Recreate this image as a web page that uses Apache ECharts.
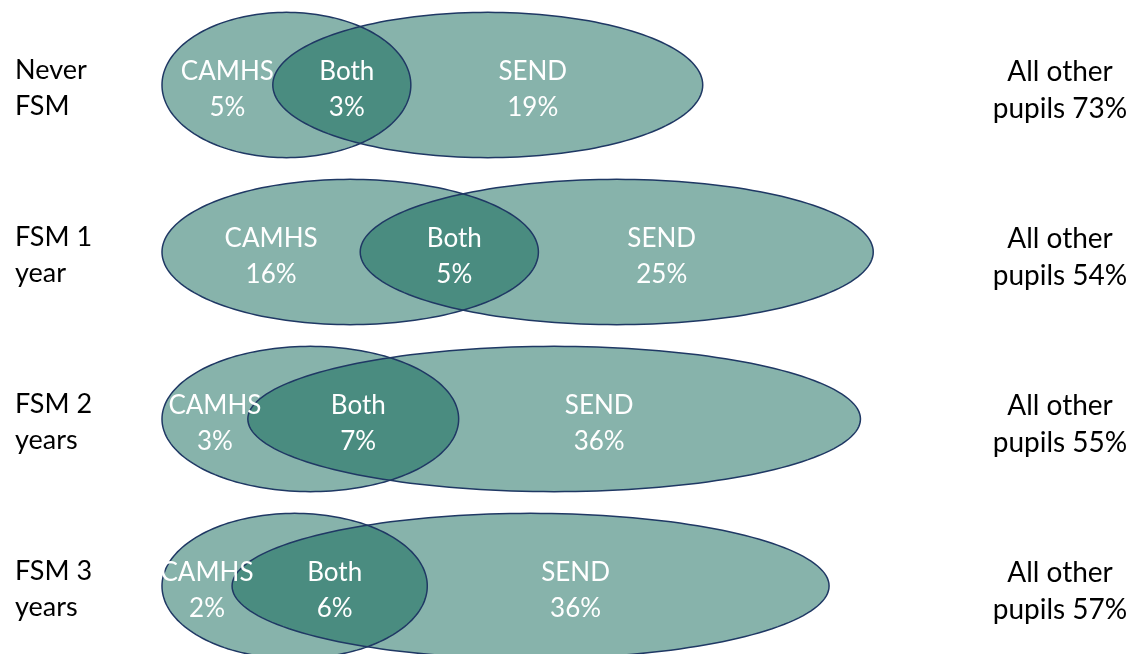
<!DOCTYPE html>
<html>
<head>
<meta charset="utf-8">
<script src="https://cdn.jsdelivr.net/npm/echarts@6/dist/echarts.min.js"></script>
<style>
  html, body { margin: 0; padding: 0; background: #ffffff; }
  #chart { width: 1135px; height: 654px; }
</style>
</head>
<body>
<div id="chart"></div>
<script>
// Pupils by years of free school meals: share known to CAMHS only, both, SEND only, neither (%)
const groups    = ['Never\nFSM', 'FSM 1\nyear', 'FSM 2\nyears', 'FSM 3\nyears'];
const camhsOnly = [5, 16, 3, 2];
const both      = [3, 5, 7, 6];
const sendOnly  = [19, 25, 36, 36];
const allOther  = [73, 54, 55, 57];

// Horizontal extent of each region, in x-axis units per sqrt(percentage point)
const SCALE = { camhs: 0.74, both: 1.19, send: 1.0 };

const FILL = 'rgba(10, 99, 83, 0.49)';
const EDGE = '#1f3864';
const FONT = 'Lato, "Open Sans", sans-serif';

function ellipsePoints(cx, cy, rx, ry) {
  const pts = [];
  const n = 180;
  for (let k = 0; k < n; k++) {
    const t = (2 * Math.PI * k) / n;
    pts.push([cx + rx * Math.cos(t), cy + ry * Math.sin(t)]);
  }
  return pts;
}

const rows = groups.map((g, i) => [i, camhsOnly[i], both[i], sendOnly[i], allOther[i]]);

function renderRow(params, api) {
  const i = api.value(0);
  const c = api.value(1), b = api.value(2), s = api.value(3), o = api.value(4);

  // region boundaries along the x axis
  const x0 = 0;
  const x1 = x0 + SCALE.camhs * Math.sqrt(c);
  const x2 = x1 + SCALE.both * Math.sqrt(b);
  const x3 = x2 + SCALE.send * Math.sqrt(s);

  const p0 = api.coord([x0, i])[0];
  const p1 = api.coord([x1, i])[0];
  const p2 = api.coord([x2, i])[0];
  const p3 = api.coord([x3, i])[0];
  const cy = api.coord([x0, i])[1];
  const ry = api.size([0, 1])[1] * 0.435;

  const camhs = ellipsePoints((p0 + p2) / 2, cy, (p2 - p0) / 2, ry);
  const send = ellipsePoints((p1 + p3) / 2, cy, (p3 - p1) / 2, ry);

  const inner = (text, x) => ({
    type: 'text',
    x: x, y: cy + 5,
    style: {
      text: text, fill: '#ffffff', align: 'center', verticalAlign: 'middle',
      fontSize: 26, fontFamily: FONT, lineHeight: 36
    }
  });

  return {
    type: 'group',
    children: [
      { type: 'polygon', shape: { points: camhs }, style: { fill: FILL, stroke: null } },
      { type: 'polygon', shape: { points: send }, style: { fill: FILL, stroke: null } },
      { type: 'polygon', shape: { points: camhs }, style: { fill: null, stroke: EDGE, lineWidth: 1.5 } },
      { type: 'polygon', shape: { points: send }, style: { fill: null, stroke: EDGE, lineWidth: 1.5 } },
      inner('CAMHS\n' + c + '%', (p0 + p1) / 2 + 10),
      inner('Both\n' + b + '%', (p1 + p2) / 2 + 5),
      inner('SEND\n' + s + '%', (p1 + p3) / 2 + 45),
      {
        // row name, left of the diagrams
        type: 'text',
        x: p0 - 147, y: cy + 3,
        style: {
          text: groups[i], fill: '#000000', align: 'left', verticalAlign: 'middle',
          fontSize: 27, fontFamily: FONT, lineHeight: 36
        }
      },
      {
        type: 'text',
        x: api.getWidth() - 75, y: cy + 5,
        style: {
          text: 'All other\npupils ' + o + '%', fill: '#000000', align: 'center',
          verticalAlign: 'middle', fontSize: 28, fontFamily: FONT, lineHeight: 37
        }
      }
    ]
  };
}

const chart = echarts.init(document.getElementById('chart'), null, { renderer: 'canvas' });
chart.setOption({
  animation: false,
  backgroundColor: '#ffffff',
  grid: { left: 162, right: 2, top: 85, bottom: 68 },
  xAxis: { type: 'value', min: 0, max: 14.5, show: false },
  yAxis: {
    type: 'value', min: 0, max: 3, interval: 1, inverse: true,
    axisLine: { show: false }, axisTick: { show: false }, splitLine: { show: false },
    axisLabel: { show: false }
  },
  series: [{
    type: 'custom',
    coordinateSystem: 'cartesian2d',
    clip: false,
    silent: true,
    data: rows,
    encode: { x: 1, y: 0 },
    renderItem: renderRow
  }]
});
</script>
</body>
</html>
